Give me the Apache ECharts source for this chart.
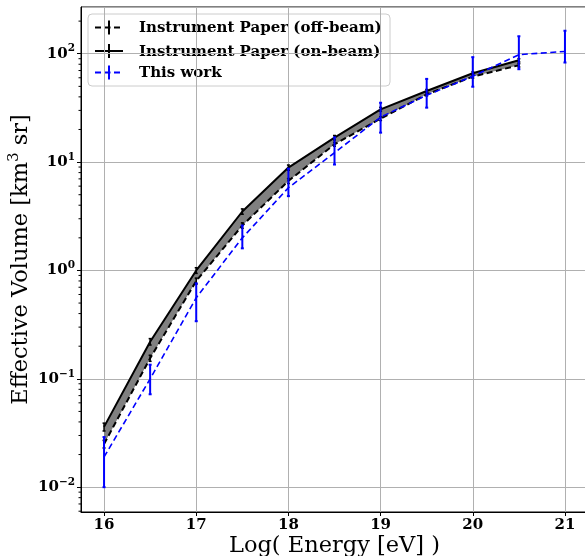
<!DOCTYPE html>
<html><head><meta charset="utf-8">
<script src="https://cdn.jsdelivr.net/npm/echarts@6/dist/echarts.min.js"></script>
<style>html,body{margin:0;padding:0;background:#fff}#c{width:585px;height:556px}</style>
</head><body><div id="c"></div>
<script>
// ---- data ----
const energyPaper = [16, 16.5, 17, 17.5, 18, 18.5, 19, 19.5, 20, 20.5];
const onBeam    = [0.036, 0.22, 1.0, 3.5, 8.9, 16.8, 30.7, 45.3, 66, 87];
const onBeamLo  = [0.033, 0.205, 0.94, 3.3, 8.4, 16.0, 29.5, 43.8, 64, 84];
const onBeamHi  = [0.039, 0.235, 1.06, 3.7, 9.4, 17.6, 32, 46.8, 68, 90];
const offBeam   = [0.025, 0.155, 0.80, 2.6, 6.7, 14.6, 25.2, 42.2, 61.5, 78.3];
const offBeamLo = [0.023, 0.145, 0.75, 2.45, 6.35, 14.0, 24.2, 40.8, 59.5, 75.5];
const offBeamHi = [0.027, 0.165, 0.85, 2.75, 7.05, 15.2, 26.2, 43.6, 63.5, 81];
const energyThis = [16, 16.5, 17, 17.5, 18, 18.5, 19, 19.5, 20, 20.5, 21];
const thisWork   = [0.019, 0.10, 0.56, 2.0, 5.8, 12.2, 26, 41.4, 62, 98, 105];
const thisWorkLo = [0.010, 0.072, 0.34, 1.6, 4.85, 9.5, 18.7, 31.8, 49.6, 72, 83];
const thisWorkHi = [0.029, 0.135, 0.76, 2.6, 8.7, 16.9, 35.3, 58.6, 93, 145, 163];
const legendNames = ['Instrument Paper (off-beam)', 'Instrument Paper (on-beam)', 'This work'];
const xLabel = 'Log( Energy [eV] )';
const X_MIN = 15.75, X_MAX = 21.25, Y_MIN = 0.0059, Y_MAX = 270;

// minor tick positions of log axis (2..9 x 10^k)
const minorVals = [];
for (let k = -3; k <= 2; k++) for (let m = 2; m <= 9; m++) {
  const v = m * Math.pow(10, k);
  if (v > Y_MIN && v < Y_MAX) minorVals.push(v);
}

const SERIF = "'DejaVu Serif', 'Liberation Serif', serif";
const chart = echarts.init(document.getElementById('c'), null, {renderer: 'canvas'});

function errorBarSeries(xs, lo, hi, color, width, capHalf, z) {
  return {
    type: 'custom', z: z, silent: true,
    data: xs.map((x, i) => [x, lo[i], hi[i]]),
    encode: {x: 0, y: [1, 2]},
    renderItem: function (params, api) {
      const a = api.coord([api.value(0), api.value(1)]);
      const b = api.coord([api.value(0), api.value(2)]);
      const st = {stroke: color, lineWidth: width};
      return {type: 'group', children: [
        {type: 'line', shape: {x1: a[0], y1: a[1], x2: b[0], y2: b[1]}, style: st},
        {type: 'line', shape: {x1: a[0] - capHalf, y1: a[1], x2: a[0] + capHalf, y2: a[1]}, style: st},
        {type: 'line', shape: {x1: b[0] - capHalf, y1: b[1], x2: b[0] + capHalf, y2: b[1]}, style: st}
      ]};
    }
  };
}

const legendRows = [
  {y: 27.5, color: '#000', dashed: true},
  {y: 51, color: '#000', dashed: false},
  {y: 72.5, color: '#0000ff', dashed: true}
];
const legendChildren = [{
  type: 'rect', shape: {x: 88, y: 14, width: 302, height: 72, r: 4},
  style: {fill: 'rgba(255,255,255,0.85)', stroke: '#cccccc', lineWidth: 1}
}];
legendRows.forEach((r, i) => {
  legendChildren.push({type: 'line', shape: {x1: 95, y1: r.y, x2: 123, y2: r.y},
    style: {stroke: r.color, lineWidth: 2, lineDash: r.dashed ? [6, 3.5] : null}});
  legendChildren.push({type: 'line', shape: {x1: 109, y1: r.y - 7, x2: 109, y2: r.y + 7},
    style: {stroke: r.color, lineWidth: 2}});
  legendChildren.push({type: 'text', x: 139, y: r.y + 1,
    style: {text: legendNames[i], fontFamily: SERIF, fontWeight: 'bold', fontSize: 15,
      fill: '#000', verticalAlign: 'middle', align: 'left'}});
});

const option = {
  animation: false,
  backgroundColor: '#fff',
  grid: {left: 81, top: 7, width: 507, height: 505, show: true, borderColor: '#000', borderWidth: 1,
    containLabel: false, outerBoundsMode: 'none'},
  xAxis: {
    type: 'value', min: X_MIN, max: X_MAX, splitNumber: 5,
    name: xLabel, nameLocation: 'middle', nameGap: 23, nameMoveOverlap: false,
    nameTextStyle: {fontFamily: SERIF, fontSize: 22.5, color: '#000'},
    axisLine: {show: true, onZero: false, lineStyle: {color: '#000', width: 1}},
    axisTick: {show: true, length: 4, lineStyle: {color: '#000'}},
    axisLabel: {showMinLabel: false, showMaxLabel: false, margin: 6, fontFamily: SERIF, fontWeight: 'bold', fontSize: 15, color: '#000'},
    splitLine: {show: true, lineStyle: {color: '#b0b0b0', width: 1}}
  },
  yAxis: {
    type: 'log', min: Y_MIN, max: Y_MAX, logBase: 10,
    name: '{n|Effective Volume [km}{s|3}{n| sr]}', nameLocation: 'middle', nameGap: 46, nameRotate: 90,
    nameMoveOverlap: false,
    nameTextStyle: {rich: {
      n: {fontFamily: SERIF, fontSize: 22.5, color: '#000'},
      s: {fontFamily: SERIF, fontSize: 15, color: '#000', padding: [0, 0, 13, 0]}
    }},
    axisLine: {show: true, lineStyle: {color: '#000', width: 1}},
    axisTick: {show: true, length: 4, lineStyle: {color: '#000'}},
    axisLabel: {
      showMinLabel: false, showMaxLabel: false, margin: 6,
      formatter: function (v) {
        const e = Math.round(Math.log10(v));
        return '{b|10}{s|' + (e < 0 ? '\u2212' + (-e) : e) + '}';
      },
      rich: {
        b: {fontFamily: SERIF, fontWeight: 'bold', fontSize: 15, color: '#000'},
        s: {fontFamily: SERIF, fontWeight: 'bold', fontSize: 10.5, color: '#000', padding: [0, 0, 10, 0]}
      }
    },
    splitLine: {show: true, lineStyle: {color: '#b0b0b0', width: 1}}
  },
  graphic: [{type: 'group', z: 100, children: legendChildren}],
  series: [
    {
      type: 'custom', silent: true, z: 1, clip: false,
      data: minorVals.map(v => [X_MIN, v]), encode: {x: 0, y: 1},
      renderItem: function (params, api) {
        const p = api.coord([api.value(0), api.value(1)]);
        return {type: 'line', shape: {x1: p[0] - 2.5, y1: p[1], x2: p[0], y2: p[1]}, style: {stroke: '#000', lineWidth: 1}};
      }
    },
    {
      type: 'custom', silent: true, z: 2,
      data: [[energyPaper[0], onBeam[0]]], encode: {x: 0, y: 1},
      renderItem: function (params, api) {
        const pts = [];
        for (let i = 0; i < energyPaper.length; i++) pts.push(api.coord([energyPaper[i], onBeam[i]]));
        for (let i = energyPaper.length - 1; i >= 0; i--) pts.push(api.coord([energyPaper[i], offBeam[i]]));
        return {type: 'polygon', shape: {points: pts}, style: {fill: '#808080'}};
      }
    },
    {type: 'line', name: legendNames[0], z: 3, data: energyPaper.map((x, i) => [x, offBeam[i]]), showSymbol: false,
      lineStyle: {color: '#000', width: 2, type: [6, 3.5]}},
    errorBarSeries(energyPaper, offBeamLo, offBeamHi, '#000', 1.5, 1.5, 3),
    {type: 'line', name: legendNames[1], z: 4, data: energyPaper.map((x, i) => [x, onBeam[i]]), showSymbol: false,
      lineStyle: {color: '#000', width: 2}},
    errorBarSeries(energyPaper, onBeamLo, onBeamHi, '#000', 1.5, 1.5, 4),
    {type: 'line', name: legendNames[2], z: 5, data: energyThis.map((x, i) => [x, thisWork[i]]), showSymbol: false,
      lineStyle: {color: '#0000ff', width: 1.6, type: [6, 3.5]}},
    errorBarSeries(energyThis, thisWorkLo, thisWorkHi, '#0000ff', 2, 1.5, 5)
  ]
};
chart.setOption(option);
</script>
</body></html>
